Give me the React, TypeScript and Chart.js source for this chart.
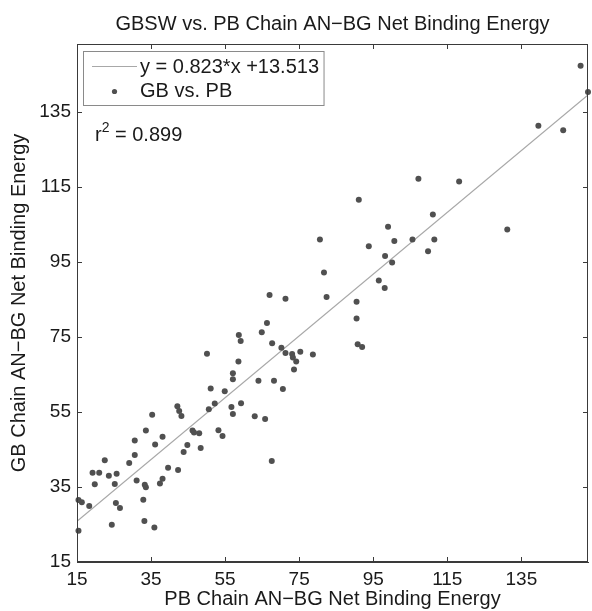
import React, { useEffect, useRef } from 'react';
import { Chart, registerables } from 'chart.js';

Chart.register(...registerables);

const titleText = 'GBSW vs. PB Chain AN−BG Net Binding Energy';
const xAxisTitle = 'PB Chain AN−BG Net Binding Energy';
const yAxisTitle = 'GB Chain AN−BG Net Binding Energy';
const fitLabel = 'y = 0.823*x +13.513';
const pointLabel = 'GB vs. PB';
const r2Value = '0.899';
const fitSlope = 0.823;
const fitIntercept = 13.513;
const axisMin = 15;
const xAxisMax = 153;
const yAxisMax = 153;
const tickValues = [15, 35, 55, 75, 95, 115, 135];
const fitXs = [15, 153];

const pbValues = [
  151.0, 153.0, 139.6, 146.3, 107.2, 118.2, 91.1, 111.1, 99.0, 80.6, 93.8, 100.7, 105.6, 111.5, 131.2, 109.8, 98.2, 100.1, 81.7, 96.5, 98.1, 82.4, 90.5, 90.5, 90.8, 92.0,
  67.0, 71.3, 66.3, 64.9, 58.7, 59.2, 67.7, 70.2, 71.3, 73.1, 75.3, 78.7, 73.3, 74.2, 73.6, 50.1, 58.6, 57.1, 57.1, 64.0, 68.2, 70.6, 51.1, 54.9, 52.2, 50.6, 59.3, 56.7, 57.1, 63.0, 65.8, 42.1, 42.6, 43.2, 35.3, 33.6, 38.1, 36.1, 30.6, 30.6, 29.1, 46.2, 46.6, 48.0, 53.2, 54.3, 44.8, 43.8, 48.4, 67.6, 22.5, 19.2, 21.0, 23.6, 25.7, 39.6, 42.3, 38.1, 31.1,
  19.8, 25.2, 37.4, 33.3, 33.6, 15.4, 16.3, 18.3, 25.5, 26.6, 32.9, 33.2, 24.4, 35.9, 15.4,
];
const gbValues = [
  147.2, 140.2, 131.2, 130.0, 117.1, 116.4, 111.5, 107.6, 104.3, 100.9, 99.1, 100.5, 100.9, 100.9, 103.6, 97.8, 96.5, 94.8, 92.1, 90.0, 88.0, 85.6, 84.3, 79.9, 73.0, 72.3,
  86.1, 85.1, 78.7, 76.2, 75.5, 73.9, 73.3, 72.1, 70.7, 70.4, 71.0, 70.3, 69.5, 68.4, 66.3, 70.5, 68.4, 65.3, 63.7, 63.3, 63.3, 61.1, 61.2, 60.5, 57.2, 55.7, 57.3, 56.3, 54.4, 53.8, 53.1, 56.5, 55.2, 53.9, 54.2, 50.0, 48.4, 46.3, 47.4, 43.5, 41.4, 50.0, 49.5, 49.3, 50.1, 48.6, 46.2, 44.3, 45.4, 41.9, 42.1, 38.8, 38.8, 38.0, 38.5, 40.1, 39.5, 37.2, 36.7,
  35.7, 35.8, 35.9, 35.6, 34.9, 31.5, 30.9, 29.9, 30.7, 29.4, 31.6, 25.9, 24.9, 24.2, 23.3,
];

const FONT = '"Liberation Sans", Arial, Helvetica, sans-serif';
const TEXT = '#1a1a1a';
const AXIS = '#3a3a3a';
const DOT = '#505050';
const LINE = '#a8a8a8';

const decorPlugin = {
  id: 'decor',
  afterDraw(chart: any) {
    const { ctx, chartArea: a, scales } = chart;
    ctx.save();
    // frame
    ctx.strokeStyle = AXIS;
    ctx.lineWidth = 1;
    ctx.strokeRect(a.left + 0.5, a.top + 0.5, a.right - a.left - 1, a.bottom - a.top - 1);
    // inward ticks
    const tl = 5;
    ctx.beginPath();
    tickValues.forEach((v) => {
      const px = Math.round(scales.x.getPixelForValue(v)) + 0.5;
      ctx.moveTo(px, a.bottom);
      ctx.lineTo(px, a.bottom - tl);
      ctx.moveTo(px, a.top);
      ctx.lineTo(px, a.top + tl);
      const py = Math.round(scales.y.getPixelForValue(v)) + 0.5;
      ctx.moveTo(a.left, py);
      ctx.lineTo(a.left + tl, py);
      ctx.moveTo(a.right, py);
      ctx.lineTo(a.right - tl, py);
    });
    ctx.stroke();

    // title
    ctx.fillStyle = TEXT;
    ctx.font = `20px ${FONT}`;
    ctx.textAlign = 'center';
    ctx.textBaseline = 'middle';
    ctx.fillText(titleText, (a.left + a.right) / 2, 24);

    // legend box
    ctx.font = `20px ${FONT}`;
    const bx = a.left + 6.5;
    const by = a.top + 7.5;
    const textX = a.left + 63;
    const tw = Math.max(ctx.measureText(fitLabel).width, ctx.measureText(pointLabel).width);
    const bw = textX + tw + 5 - bx;
    const bh = 54;
    ctx.fillStyle = '#ffffff';
    ctx.fillRect(bx, by, bw, bh);
    ctx.strokeStyle = '#8a8a8a';
    ctx.lineWidth = 1;
    ctx.strokeRect(bx, by, bw, bh);
    const row1 = by + 15;
    const row2 = by + 40;
    ctx.strokeStyle = LINE;
    ctx.lineWidth = 1.2;
    ctx.beginPath();
    ctx.moveTo(a.left + 15, row1);
    ctx.lineTo(a.left + 60, row1);
    ctx.stroke();
    ctx.fillStyle = DOT;
    ctx.beginPath();
    ctx.arc(a.left + 37.5, row2, 2.6, 0, Math.PI * 2);
    ctx.fill();
    ctx.fillStyle = TEXT;
    ctx.textAlign = 'left';
    ctx.textBaseline = 'middle';
    ctx.fillText(fitLabel, textX, row1 + 1);
    ctx.fillText(pointLabel, textX, row2);

    // r^2 annotation
    const rx = a.left + 18;
    const rb = a.top + 97;
    ctx.textBaseline = 'alphabetic';
    ctx.font = `20px ${FONT}`;
    ctx.fillText('r', rx, rb);
    const rw = ctx.measureText('r').width;
    ctx.font = `14px ${FONT}`;
    ctx.fillText('2', rx + rw, rb - 9);
    const sw = ctx.measureText('2').width;
    ctx.font = `20px ${FONT}`;
    ctx.fillText(' = ' + r2Value, rx + rw + sw, rb);
    ctx.restore();
  },
};

export default function App() {
  const ref = useRef<HTMLCanvasElement | null>(null);
  useEffect(() => {
    if (!ref.current) return;
    const chart = new Chart(ref.current, {
      type: 'scatter',
      data: {
        datasets: [
          {
            label: pointLabel,
            data: pbValues.map((x, i) => ({ x, y: gbValues[i] })),
            backgroundColor: DOT,
            borderColor: DOT,
            borderWidth: 0,
            pointRadius: 3,
            clip: false as any,
          },
          {
            label: fitLabel,
            data: fitXs.map((x) => ({ x, y: fitSlope * x + fitIntercept })),
            showLine: true,
            borderColor: LINE,
            borderWidth: 1.2,
            pointRadius: 0,
            fill: false,
          },
        ],
      },
      options: {
        responsive: false,
        animation: false,
        layout: { padding: { top: 44, right: 3, left: 0, bottom: 0 } },
        plugins: {
          legend: { display: false },
          title: { display: false },
          tooltip: { enabled: false },
        },
        scales: {
          x: {
            type: 'linear',
            min: axisMin,
            max: xAxisMax,
            afterBuildTicks: (s: any) => {
              s.ticks = tickValues.map((v) => ({ value: v }));
            },
            afterFit: (s: any) => {
              s.height = 49;
            },
            grid: { display: false, drawTicks: false },
            border: { display: true, color: AXIS, width: 1 },
            ticks: {
              padding: 6,
              color: TEXT,
              maxRotation: 0,
              autoSkip: false,
              font: { family: FONT, size: 19 },
            },
            title: {
              display: true,
              text: xAxisTitle,
              color: TEXT,
              font: { family: FONT, size: 20 },
              padding: { top: 0, bottom: 0 },
            },
          },
          y: {
            type: 'linear',
            min: axisMin,
            max: yAxisMax,
            afterBuildTicks: (s: any) => {
              s.ticks = tickValues.map((v) => ({ value: v }));
            },
            afterFit: (s: any) => {
              s.width = 77;
            },
            grid: { display: false, drawTicks: false },
            border: { display: true, color: AXIS, width: 1 },
            ticks: {
              padding: 6,
              color: TEXT,
              autoSkip: false,
              font: { family: FONT, size: 19 },
            },
            title: {
              display: true,
              text: yAxisTitle,
              color: TEXT,
              font: { family: FONT, size: 20 },
              padding: { top: 7, bottom: 0 },
            },
          },
        },
      },
      plugins: [decorPlugin],
    } as any);
    return () => chart.destroy();
  }, []);
  return (
    <div style={{ position: 'absolute', left: 0, top: 0, width: 592, height: 611, background: '#fff' }}>
      <canvas ref={ref} width={592} height={611} style={{ display: 'block' }} />
    </div>
  );
}
